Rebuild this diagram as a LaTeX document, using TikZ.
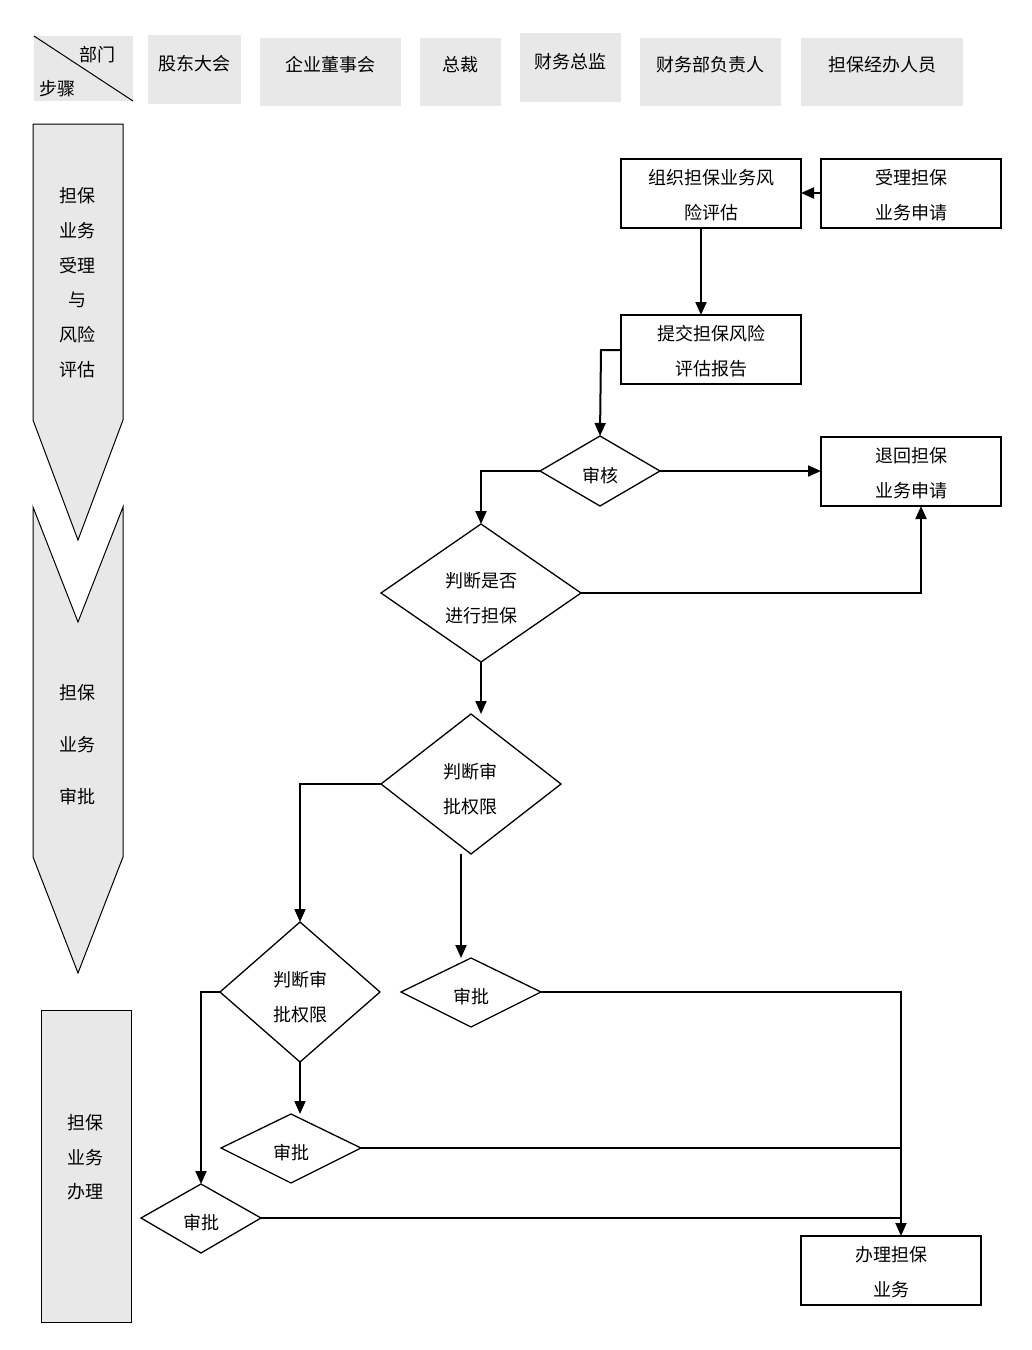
\documentclass[tikz,border=0pt]{standalone}
\usepackage{fontspec}
\setmainfont{Noto Sans CJK SC}
\usetikzlibrary{arrows.meta,shapes.geometric}
\begin{document}
\begin{tikzpicture}[x=1pt,y=-1pt,
  hdr/.style={fill=gray!18,draw=none},
  box/.style={draw,line width=1.3pt},
  lab/.style={font=\fontsize{18}{22}\selectfont,align=center},
  ar/.style={line width=2pt,-{Triangle[length=13pt,width=11pt]}},
  ln/.style={line width=1.5pt}]
\useasboundingbox (0,0) rectangle (1032,1350);
% header
\fill[gray!18] (34,36) rectangle (133,101);
\draw[line width=1pt] (34,36) -- (133,101);
\node[lab] (hb) at (97,55) {部门};
\node[lab] (hs) at (57,89) {步骤};
\fill[hdr] (148,35) rectangle (241,104); \node[lab] (h1) at (194.5,64) {股东大会};
\fill[hdr] (260,38) rectangle (401,106); \node[lab] (h2) at (330.5,65) {企业董事会};
\fill[hdr] (420,38) rectangle (501,106); \node[lab] (h3) at (460.5,65) {总裁};
\fill[hdr] (520,33) rectangle (621,102); \node[lab] (h4) at (570.5,62) {财务总监};
\fill[hdr] (640,38) rectangle (781,106); \node[lab] (h5) at (710.5,65) {财务部负责人};
\fill[hdr] (801,38) rectangle (963,106); \node[lab] (h6) at (882,65) {担保经办人员};
% stage arrows
\draw[fill=gray!18,line width=1pt] (33,124)--(123,124)--(123,420)--(78,540)--(33,420)--cycle;
\foreach \t/\y in {担保/196,业务/231,受理/266,与/300,风险/335,评估/370}
  \node[lab] at (77,\y) {\t};
\draw[fill=gray!18,line width=1pt] (33,507)--(78,622)--(123,507)--(123,857)--(78,973)--(33,857)--cycle;
\foreach \t/\y in {担保/693,业务/745,审批/797}
  \node[lab] at (77,\y) {\t};
\draw[fill=gray!18,line width=1pt] (41,1010) rectangle (131,1322);
\foreach \t/\y in {担保/1123,业务/1158,办理/1192}
  \node[lab] at (85,\y) {\t};
% nodes
\draw[box] (621,159) rectangle (801,228); \node[lab] (A) at (711,195) {组织担保业务风\\[13pt]险评估};
\coordinate (Ae) at (801,193); \coordinate (As) at (701,228);
\draw[box] (821,159) rectangle (1001,228); \node[lab] (B) at (911,195) {受理担保\\[13pt]业务申请};
\coordinate (Bw) at (821,193);
\draw[box] (621,315) rectangle (801,384); \node[lab] (C) at (711,351) {提交担保风险\\[13pt]评估报告};
\coordinate (Cn) at (701,315); \coordinate (Cw) at (621,350);
\draw[box] (821,437) rectangle (1001,506); \node[lab] (E) at (911,473) {退回担保\\[13pt]业务申请};
\coordinate (Ew) at (821,471); \coordinate (Es) at (921,506);
\draw[box] (801,1236) rectangle (981,1305); \node[lab] (L) at (891,1272) {办理担保\\[13pt]业务};
\coordinate (Ln) at (901,1236);
\draw[box] (540,471)--(600,436)--(660,471)--(600,506)--cycle; \node[lab] (D) at (600,476) {审核};
\draw[box] (381,593)--(481,524)--(581,593)--(481,662)--cycle; \node[lab] (F) at (481,598) {判断是否\\[13pt]进行担保};
\draw[box] (381,784)--(471,714)--(561,784)--(471,854)--cycle; \node[lab] (G) at (470,789) {判断审\\[13pt]批权限};
\draw[box] (220,992)--(300,922)--(380,992)--(300,1062)--cycle; \node[lab] (H) at (300,997) {判断审\\[13pt]批权限};
\draw[box] (401,992)--(471,958)--(541,992)--(471,1027)--cycle; \node[lab] (I) at (471,997) {审批};
\draw[box] (221,1148)--(291,1114)--(361,1148)--(291,1183)--cycle; \node[lab] (J) at (291,1153) {审批};
\draw[box] (141,1218)--(201,1184)--(261,1218)--(201,1253)--cycle; \node[lab] (K) at (201,1223) {审批};
% connectors
\draw[ar] (Bw) -- (Ae);
\draw[ar] (As) -- (Cn);
\draw[ar] (Cw) -- (601,350) -- (600,436);
\draw[ar] (660,471) -- (Ew);
\draw[ar] (540,471) -- (481,471) -- (481,524);
\draw[ar] (581,593) -- (921,593) -- (Es);
\draw[ar] (481,662) -- (481,714);
\draw[ar] (381,784) -- (300,784) -- (300,922);
\draw[ar] (461,854) -- (461,958);
\draw[ar] (300,1062) -- (300,1114);
\draw[ar] (220,992) -- (201,992) -- (201,1184);
\draw[ar] (541,992) -- (901,992) -- (Ln);
\draw[ln] (361,1148) -- (901,1148);
\draw[ln] (261,1218) -- (901,1218);
\end{tikzpicture}
\end{document}
